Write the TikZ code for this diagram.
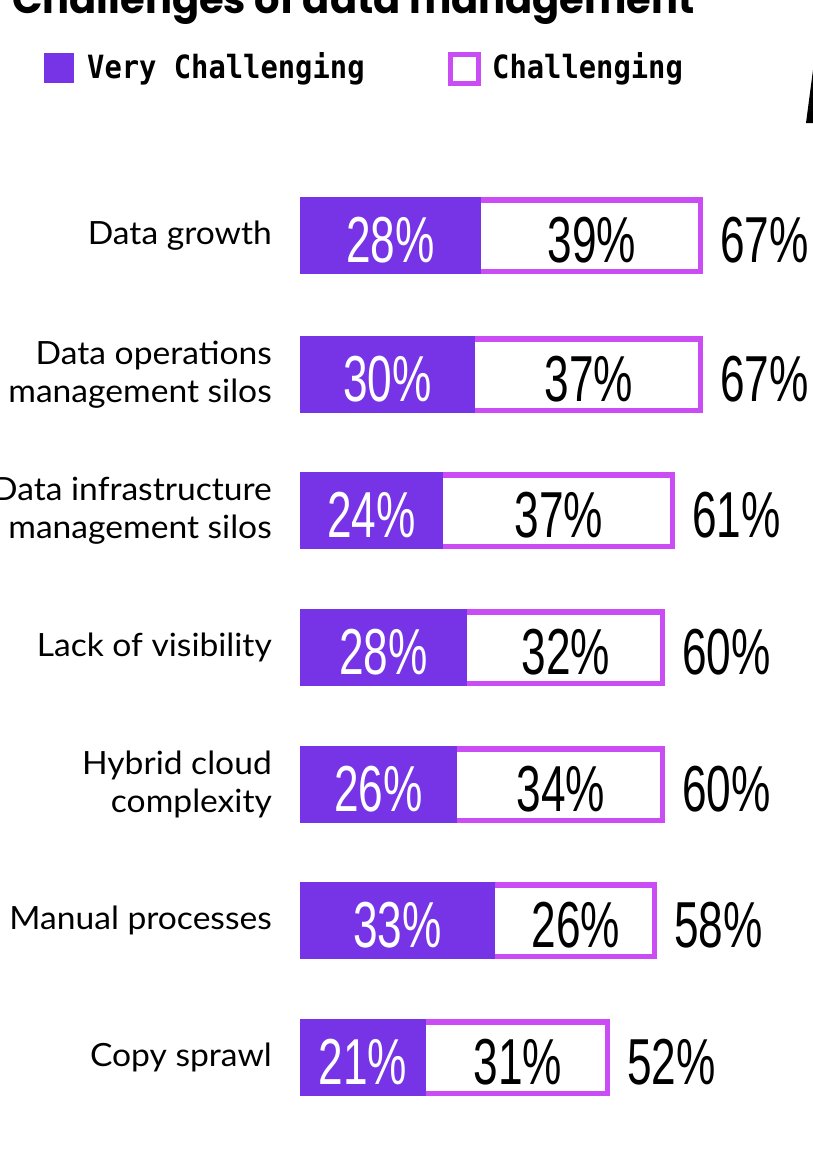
\documentclass[tikz,border=0pt]{standalone}
\usepackage{fontspec}
\setmainfont[FakeStretch=1.05]{Lato}
\newfontfamily\numfont[FakeStretch=0.68]{Liberation Sans}
\newfontfamily\legfont[FakeStretch=0.9]{DejaVu Sans Mono}
\newfontfamily\titlefont{Poppins}
\usepackage{tikz}

\definecolor{vcpurple}{RGB}{119,51,230}
\definecolor{chmagenta}{RGB}{201,76,245}

\tikzset{
  lbl/.style={anchor=east, align=right, inner sep=0pt, font=\fontsize{32}{38}\selectfont},
  vcnum/.style={anchor=base, inner sep=0pt, text=white, font=\numfont\fontsize{65}{65}\selectfont},
  cnum/.style={anchor=base, inner sep=0pt, font=\numfont\fontsize{65}{65}\selectfont},
  totnum/.style={anchor=base west, inner sep=0pt, font=\numfont\fontsize{65}{65}\selectfont},
  vcbar/.style={fill=vcpurple},
  chbox/.style={draw=chmagenta, line width=5.5pt, fill=white},
  legtext/.style={anchor=base west, inner sep=0pt, font=\legfont\bfseries\fontsize{32}{32}\selectfont}
}

\begin{document}
\begin{tikzpicture}[x=1pt,y=-1pt]
	\useasboundingbox (0,0) rectangle (813,1157);
	\clip (0,0) rectangle (813,1157);
	
	% title and legend
	\node[anchor=base west, inner sep=0pt, font=\titlefont\bfseries\fontsize{40}{40}\selectfont] (title) at (12,13) {Challenges of data management};
	\fill[vcbar] (44,53) rectangle (74,83);
	\node[legtext] (legvc) at (87,78.3) {Very Challenging};
	\draw[chbox, line width=5pt] (450.5,54.5) rectangle (478.5,83.5);
	\node[legtext] (legch) at (492,78.3) {Challenging};
	\fill (813,70) -- (806,123) -- (813,123) -- cycle;
	
	% Data growth
	\node[lbl] (lblgrowth) at (272,235.5) {Data growth};
	\draw[chbox] (478,199.75) rectangle (700.25,271.25);
	\fill[vcbar] (300,197) rectangle (481,274);
	\node[vcnum] (vcgrowth) at (390.5,262) {28\%};
	\node[cnum] (chgrowth) at (592,262) {39\%};
	\node[totnum] (totgrowth) at (720,262) {67\%};
	
	% Data operations
	\node[lbl] (lblops) at (272,374.5) {Data operations\\management silos};
	\draw[chbox] (472,338.75) rectangle (700.25,410.25);
	\fill[vcbar] (300,336) rectangle (475,413);
	\node[vcnum] (vcops) at (387.5,401) {30\%};
	\node[cnum] (chops) at (589,401) {37\%};
	\node[totnum] (totops) at (720,401) {67\%};
	
	% Data infrastructure
	\node[lbl] (lblinfra) at (272,510.5) {Data infrastructure\\management silos};
	\draw[chbox] (440,474.75) rectangle (672.25,546.25);
	\fill[vcbar] (300,472) rectangle (443,549);
	\node[vcnum] (vcinfra) at (371.5,537) {24\%};
	\node[cnum] (chinfra) at (559,537) {37\%};
	\node[totnum] (totinfra) at (692,537) {61\%};
	
	% Lack of visibility
	\node[lbl] (lblvis) at (272,647.5) {Lack of visibility};
	\draw[chbox] (464,611.75) rectangle (662.25,683.25);
	\fill[vcbar] (300,609) rectangle (467,686);
	\node[vcnum] (vcvis) at (383.5,674) {28\%};
	\node[cnum] (chvis) at (566,674) {32\%};
	\node[totnum] (totvis) at (682,674) {60\%};
	
	% Hybrid cloud
	\node[lbl] (lblhybrid) at (272,784.5) {Hybrid cloud\\complexity};
	\draw[chbox] (454,748.75) rectangle (662.25,820.25);
	\fill[vcbar] (300,746) rectangle (457,823);
	\node[vcnum] (vchybrid) at (378.5,811) {26\%};
	\node[cnum] (chhybrid) at (561,811) {34\%};
	\node[totnum] (tothybrid) at (682,811) {60\%};
	
	% Manual processes
	\node[lbl] (lblmanual) at (272,920.5) {Manual processes};
	\draw[chbox] (492,884.75) rectangle (654.25,956.25);
	\fill[vcbar] (300,882) rectangle (495,959);
	\node[vcnum] (vcmanual) at (397.5,947) {33\%};
	\node[cnum] (chmanual) at (576,947) {26\%};
	\node[totnum] (totmanual) at (674,947) {58\%};
	
	% Copy sprawl
	\node[lbl] (lblcopy) at (272,1057.5) {Copy sprawl};
	\draw[chbox] (423,1021.75) rectangle (607.25,1093.25);
	\fill[vcbar] (300,1019) rectangle (426,1096);
	\node[vcnum] (vccopy) at (363,1084) {21\%};
	\node[cnum] (chcopy) at (518,1084) {31\%};
	\node[totnum] (totcopy) at (627,1084) {52\%};
\end{tikzpicture}
\end{document}
